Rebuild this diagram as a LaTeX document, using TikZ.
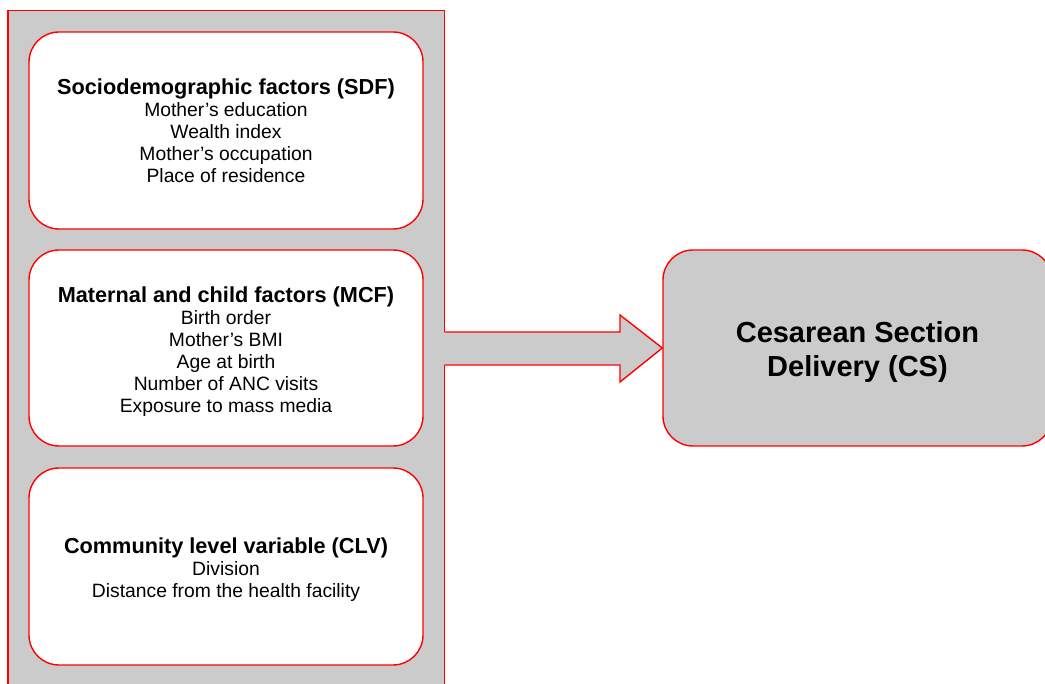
\documentclass[tikz,border=0pt]{standalone}
\usepackage{fontspec}
\setmainfont{Liberation Sans}
\definecolor{panelgray}{RGB}{203,203,203}
\definecolor{edgered}{RGB}{255,0,0}
\begin{document}
\begin{tikzpicture}[x=1pt,y=-1pt,
  factorbox/.style={draw=edgered, line width=1.4pt, fill=white, rounded corners=30pt,
    minimum width=394pt, inner sep=0pt},
  factortext/.style={inner sep=0pt, align=center,
    font=\fontsize{19.3}{22}\selectfont},
  outbox/.style={draw=edgered, line width=1.4pt, fill=panelgray, rounded corners=30pt,
    minimum width=389pt, minimum height=196pt, inner sep=0pt},
  outtext/.style={inner sep=0pt, align=center,
    font=\bfseries\fontsize{29}{34}\selectfont}]
\newcommand{\ttlfont}{\bfseries\fontsize{21.7}{22}\selectfont}
\useasboundingbox (0,0) rectangle (1045,684);
% panel
\fill[panelgray] (8,10.5) rectangle (444.5,690);
\draw[edgered, line width=1.2pt] (8,690) -- (8,10.5) -- (444.5,10.5) -- (444.5,332);
\draw[edgered, line width=1.2pt] (444.5,365) -- (444.5,690);
% output box
\node[outbox] (cs) at (857.5,348) {};
\node[outtext] (cslabel) at ([yshift=-4pt]cs.center) {Cesarean Section\\Delivery (CS)};
% arrow
\coordinate (a0) at (444.5,332);
\coordinate (a6) at (444.5,365);
\fill[panelgray] (a0) -- (620,332) -- (620,315) -- (cs.west) -- (620,382) -- (620,365) -- (a6) -- cycle;
\draw[edgered, line width=1.4pt, line join=miter] (a0) -- (620,332) -- (620,315) -- (cs.west) -- (620,382) -- (620,365) -- (a6);
% factor boxes
\node[factorbox, minimum height=197pt] (sdf) at (226,130.5) {};
\node[factortext] (sdflabel) at ([yshift=0pt]sdf.center)
  {{\ttlfont Sociodemographic factors (SDF)}\\
   Mother’s education\\ Wealth index\\ Mother’s occupation\\ Place of residence};
\node[factorbox, minimum height=196pt] (mcf) at (226,348) {};
\node[factortext] (mcflabel) at ([yshift=-4pt]mcf.center)
  {{\ttlfont Maternal and child factors (MCF)}\\
   Birth order\\ Mother’s BMI\\ Age at birth\\ Number of ANC visits\\ Exposure to mass media};
\node[factorbox, minimum height=197pt] (clv) at (226,566.5) {};
\node[factortext] (clvlabel) at ([yshift=-3pt]clv.center)
  {{\ttlfont Community level variable (CLV)}\\
   Division\\ Distance from the health facility};
\end{tikzpicture}
\end{document}
